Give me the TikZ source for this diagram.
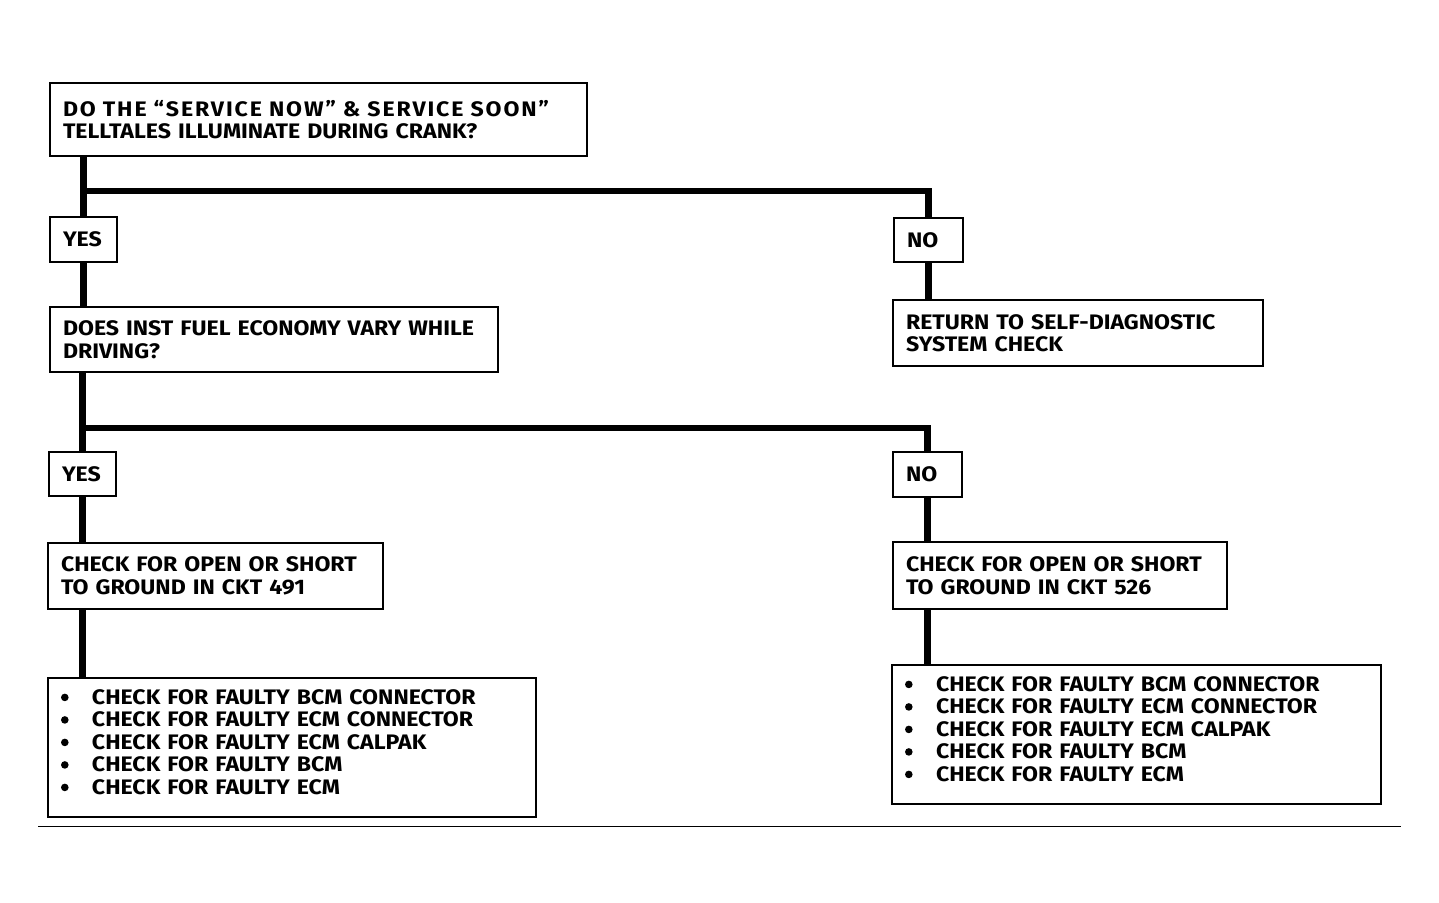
\documentclass[tikz,border=0pt]{standalone}
\usepackage{fontspec}
\setmainfont{Fira Sans}[FakeStretch=1.1]
\tikzstyle{chartbox}=[draw,line width=1pt,anchor=north west,inner xsep=6.5pt,inner ysep=0pt,align=left,font=\bfseries\fontsize{10.5}{11.25}\selectfont]
\tikzstyle{answer}=[chartbox,text width=20.5pt,minimum height=22.5pt]
\tikzstyle{checklist}=[chartbox,text width=231pt,minimum height=69.5pt]
\tikzstyle{flowline}=[line width=3.3pt]
\newcommand{\checkitem}{\makebox[15.5pt][l]{\tikz[baseline=-3.4pt]\fill (0,0) circle (1.9pt);}}

\begin{document}
\begin{tikzpicture}[x=0.5pt,y=-0.5pt]
\useasboundingbox (0,0) rectangle (1439,902);
\node [chartbox,text width=255.5pt,minimum height=36.5pt] (crank) at (49,82)
    {{\addfontfeature{LetterSpace=9}DO THE “SERVICE NOW” \& SERVICE SOON”}\\TELLTALES ILLUMINATE DURING CRANK?};
\node [answer] (yes1) at (49,216) {YES};
\node [answer,text width=21.5pt,minimum height=22pt] (no1) at (893,217) {NO};
\node [chartbox,text width=172pt,minimum height=33pt] (ret) at (892,299)
    {RETURN TO SELF-DIAGNOSTIC\\SYSTEM CHECK};
\node [chartbox,text width=211pt,minimum height=32.5pt] (fuel) at (49,306)
    {DOES INST FUEL ECONOMY VARY WHILE\\DRIVING?};
\node [answer,minimum height=22pt] (yes2) at (48,451) {YES};
\node [answer,text width=21.5pt] (no2) at (892,451) {NO};
\node [chartbox,text width=154.5pt,minimum height=33pt] (ckt491) at (47,542)
    {CHECK FOR OPEN OR SHORT\\TO GROUND IN CKT 491};
\node [chartbox,text width=154pt,minimum height=33.5pt] (ckt526) at (892,541)
    {CHECK FOR OPEN OR SHORT\\TO GROUND IN CKT 526};
\node [checklist] (faultl) at (47,677)
    {\checkitem CHECK FOR FAULTY BCM CONNECTOR\\
     \checkitem CHECK FOR FAULTY ECM CONNECTOR\\
     \checkitem CHECK FOR FAULTY ECM CALPAK\\
     \checkitem CHECK FOR FAULTY BCM\\
     \checkitem CHECK FOR FAULTY ECM\\[-5.5pt]\mbox{}};
\node [checklist,text width=231.5pt] (faultr) at (891,664)
    {\checkitem CHECK FOR FAULTY BCM CONNECTOR\\
     \checkitem CHECK FOR FAULTY ECM CONNECTOR\\
     \checkitem CHECK FOR FAULTY ECM CALPAK\\
     \checkitem CHECK FOR FAULTY BCM\\
     \checkitem CHECK FOR FAULTY ECM\\[-5.5pt]\mbox{}};
\coordinate (split1) at (yes1.north |- 0,191);
\coordinate (split2) at (yes2.north |- 0,428);
\draw [flowline] (crank.south -| yes1.north) -- (yes1.north);
\draw [flowline] (split1) -| (no1.north);
\draw [flowline] (no1.south) -- (no1.south |- ret.north);
\draw [flowline] (yes1.south) -- (yes1.south |- fuel.north);
\draw [flowline] (fuel.south -| yes2.north) -- (yes2.north);
\draw [flowline] (split2) -| (no2.north);
\draw [flowline] (yes2.south) -- (yes2.south |- ckt491.north);
\draw [flowline] (no2.south) -- (no2.south |- ckt526.north);
\draw [flowline] (yes2.south |- ckt491.south) -- (yes2.south |- faultl.north);
\draw [flowline] (no2.south |- ckt526.south) -- (no2.south |- faultr.north);
\draw [line width=0.5pt] (38,826) -- (1401,826);
\end{tikzpicture}
\end{document}
